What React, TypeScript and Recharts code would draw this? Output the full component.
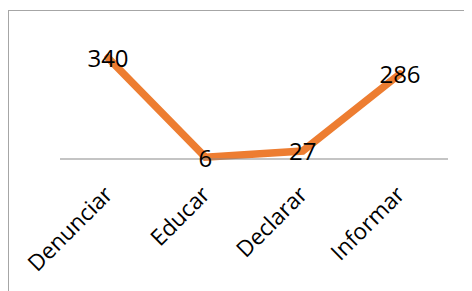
import { LabelList, Line, LineChart, XAxis, YAxis } from "recharts"

const CATEGORIES = ["Denunciar", "Educar", "Declarar", "Informar"]
const VALUES = [340, 6, 27, 286]

const data = CATEGORIES.map((name, i) => ({ name, value: VALUES[i] }))

const FONT = "'Open Sans', sans-serif"

function CategoryTick(props: any) {
  const { x, y, payload } = props
  return (
    <g transform={`translate(${x + 6},${y + 29})`}>
      <text
        textAnchor="end"
        transform="rotate(-45)"
        fontSize={22.5}
        fontFamily={FONT}
        fill="#000"
      >
        {payload.value}
      </text>
    </g>
  )
}

function ValueLabel(props: any) {
  const { x, y, value } = props
  return (
    <text
      x={x}
      y={y}
      textAnchor="middle"
      dominantBaseline="central"
      fontSize={24}
      fontFamily={FONT}
      fill="#000"
    >
      {value}
    </text>
  )
}

export default function App() {
  return (
    <div
      style={{
        marginTop: 2,
        width: 463,
        height: 280,
        borderTop: "1px solid #a6a6a6",
        borderLeft: "1px solid #a6a6a6",
        background: "#fff",
      }}
    >
      <LineChart
        width={463}
        height={280}
        data={data}
        margin={{ top: 29, right: 24, left: 51, bottom: 42 }}
      >
        <XAxis
          dataKey="name"
          height={90}
          padding={{ left: 48, right: 48 }}
          axisLine={{ stroke: "#898989", strokeWidth: 1 }}
          tickLine={false}
          tick={<CategoryTick />}
          interval={0}
        />
        <YAxis hide domain={[0, 400]} />
        <Line
          type="linear"
          dataKey="value"
          stroke="#ED7D31"
          strokeWidth={7.5}
          strokeLinecap="round"
          dot={false}
          isAnimationActive={false}
        >
          <LabelList dataKey="value" content={<ValueLabel />} />
        </Line>
      </LineChart>
    </div>
  )
}
